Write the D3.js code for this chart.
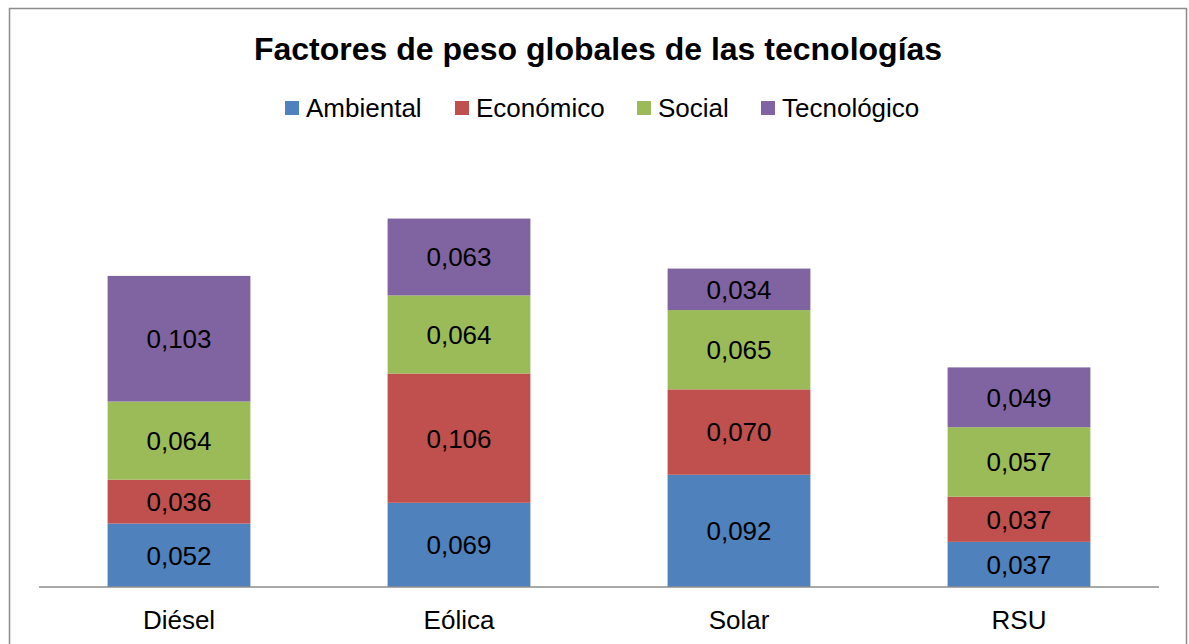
<!DOCTYPE html>
<html>
<head>
<meta charset="utf-8">
<script src="https://cdn.jsdelivr.net/npm/d3@7"></script>
<style>
  html, body { margin: 0; padding: 0; background: #fff; }
  svg { display: block; font-family: "Liberation Sans", Arial, sans-serif; }
</style>
</head>
<body>
<svg id="chart"></svg>
<script>
const W = 1189;
const H = 644;

// datos del gráfico
const categories = ["Diésel", "Eólica", "Solar", "RSU"];
const seriesNames = ["Ambiental", "Económico", "Social", "Tecnológico"];
const ambiental = [0.052, 0.069, 0.092, 0.037];
const economico = [0.036, 0.106, 0.070, 0.037];
const social = [0.064, 0.064, 0.065, 0.057];
const tecnologico = [0.103, 0.063, 0.034, 0.049];
const colors = ["#4F81BD", "#C0504D", "#9BBB59", "#8064A2"];

const svg = d3.select("#chart")
  .attr("width", W)
  .attr("height", H);

// marco exterior
svg.append("rect")
  .attr("x", 9.5).attr("y", 8.5)
  .attr("width", 1177).attr("height", 650)
  .attr("fill", "#fff")
  .attr("stroke", "#8c8c8c")
  .attr("stroke-width", 1.5);

// tabla para d3.stack
const rows = categories.map((c, i) => ({
  cat: c,
  Ambiental: ambiental[i],
  "Económico": economico[i],
  Social: social[i],
  "Tecnológico": tecnologico[i]
}));

const stacked = d3.stack().keys(seriesNames)(rows);

const x = d3.scaleBand()
  .domain(categories)
  .range([39, 1159])
  .paddingInner(0.49)
  .paddingOuter(0.245);

const y = d3.scaleLinear()
  .domain([0, 0.35])
  .range([587, 160]);

const fmt = v => d3.format(".3f")(v).replace(".", ",");

// barras
const layers = svg.selectAll("g.layer")
  .data(stacked)
  .enter()
  .append("g")
  .attr("class", "layer")
  .attr("fill", (d, i) => colors[i]);

layers.selectAll("rect")
  .data(d => d)
  .enter()
  .append("rect")
  .attr("x", d => x(d.data.cat))
  .attr("y", d => y(d[1]))
  .attr("width", x.bandwidth())
  .attr("height", d => y(d[0]) - y(d[1]));

// etiquetas de datos
layers.selectAll("text")
  .data(d => d.map(p => ({ p, key: d.key })))
  .enter()
  .append("text")
  .attr("x", d => x(d.p.data.cat) + x.bandwidth() / 2)
  .attr("y", d => (y(d.p[0]) + y(d.p[1])) / 2)
  .attr("dy", "0.36em")
  .attr("text-anchor", "middle")
  .attr("fill", "#000")
  .style("font-size", "26px")
  .text(d => fmt(d.p.data[d.key]));

// eje x
const xAxis = svg.append("g")
  .attr("transform", "translate(0,587)")
  .call(d3.axisBottom(x).tickSize(0).tickPadding(24));
xAxis.select(".domain")
  .attr("stroke", "#8c8c8c")
  .attr("stroke-width", 1.5)
  .attr("d", "M39,0H1159");
xAxis.selectAll("text")
  .style("font-size", "26px")
  .style("font-family", "'Liberation Sans', Arial, sans-serif")
  .attr("fill", "#000");

// título
svg.append("text")
  .attr("x", 598)
  .attr("y", 60)
  .attr("text-anchor", "middle")
  .style("font-size", "32px")
  .style("font-weight", "bold")
  .text("Factores de peso globales de las tecnologías");

// leyenda
const legendX = [285, 455, 637, 761];
const legend = svg.selectAll("g.legend")
  .data(seriesNames)
  .enter()
  .append("g")
  .attr("class", "legend")
  .attr("transform", (d, i) => `translate(${legendX[i]},101)`);

legend.append("rect")
  .attr("width", 14)
  .attr("height", 14)
  .attr("fill", (d, i) => colors[i]);

legend.append("text")
  .attr("x", 21)
  .attr("y", 7)
  .attr("dy", "0.36em")
  .style("font-size", "26px")
  .text(d => d);
</script>
</body>
</html>
